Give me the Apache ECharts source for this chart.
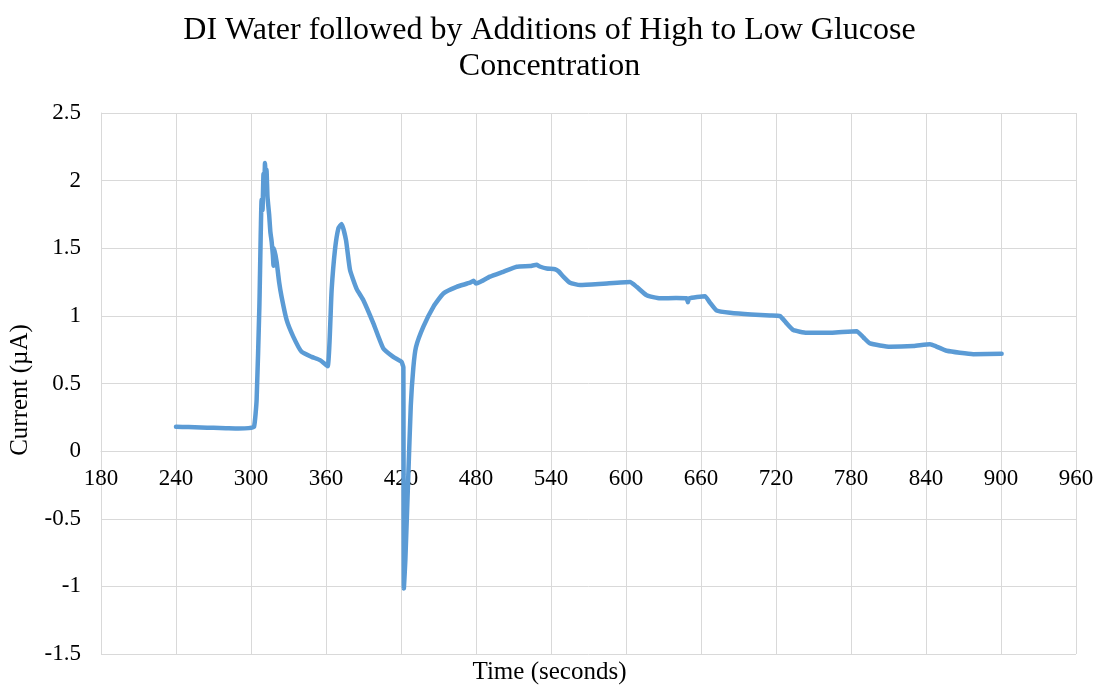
<!DOCTYPE html>
<html>
<head>
<meta charset="utf-8">
<script src="https://cdn.jsdelivr.net/npm/echarts@6/dist/echarts.min.js"></script>
<style>
  html, body { margin: 0; padding: 0; background: #fff; }
  #chart { width: 1099px; height: 688px; }
</style>
</head>
<body>
<div id="chart"></div>
<script>
// Elapsed time of the amperometric run (s)
const timeSec = [
  240, 250, 260, 270, 280, 290, 298, 302.4, 304.5, 306.7,
  308.5, 309.2, 310.0, 310.6, 311.2, 311.8, 312.4, 313.2, 314.5, 315.5,
  316.5, 317.5, 318.0, 318.5, 320.5, 322.5, 324.5, 328.5, 333.9, 340.5,
  348.5, 355.2, 361.3, 364.5, 367.2, 369.9, 372.5, 376, 379.2, 384.5,
  389.8, 397.9, 405.8, 413.8, 420.5, 421.4, 421.9, 422.3, 423.5, 425.9,
  427.8, 429.9, 432, 437.9, 445.9, 453.9, 464.5, 475.2, 478, 480,
  483.2, 491.2, 501.8, 512.6, 523.2, 528.5, 531, 536.6, 543.2, 546,
  549.9, 555.2, 563.2, 581.8, 603.2, 608.5, 616.5, 627.2, 640, 648.5,
  649.5, 650.5, 663.2, 667, 672.5, 683.2, 700, 715.2, 723.2, 728,
  733.8, 744.5, 765, 784.5, 790, 795.2, 811.2, 830, 843.2, 848,
  856.5, 877.8, 900.5
];

// Measured current (µA)
const currentUA = [
  0.18, 0.178, 0.175, 0.172, 0.17, 0.168, 0.17, 0.18, 0.38, 1.07,
  1.86, 1.78, 2.05, 1.95, 2.13, 1.98, 2.08, 1.88, 1.75, 1.62,
  1.55, 1.45, 1.37, 1.50, 1.40, 1.25, 1.14, 0.97, 0.845, 0.734,
  0.697, 0.673, 0.628, 1.19, 1.49, 1.646, 1.68, 1.56, 1.34, 1.20,
  1.117, 0.944, 0.76, 0.697, 0.66, 0.636, 0.62, -1.015, -0.8, -0.165,
  0.33, 0.62, 0.77, 0.92, 1.067, 1.166, 1.215, 1.245, 1.26, 1.24,
  1.25, 1.29, 1.326, 1.363, 1.368, 1.378, 1.365, 1.35, 1.345, 1.33,
  1.29, 1.245, 1.228, 1.238, 1.25, 1.215, 1.153, 1.13, 1.132, 1.13,
  1.10, 1.13, 1.146, 1.10, 1.04, 1.023, 1.01, 1.003, 0.998, 0.95,
  0.895, 0.875, 0.876, 0.887, 0.84, 0.796, 0.771, 0.777, 0.79, 0.775,
  0.742, 0.717, 0.72
];

const chartTitle = 'DI Water followed by Additions of High to Low Glucose\nConcentration';
const xAxisTitle = 'Time (seconds)';
const yAxisTitle = 'Current (µA)';

const xMin = 180, xMax = 960, xStep = 60;
const yMin = -1.5, yMax = 2.5, yStep = 0.5;

const serif = '"Liberation Serif", "Times New Roman", serif';
const gridColor = '#d9d9d9';

// plot box
const gridTop = 113, gridBottom = 34, chartHeight = 688;
const plotHeight = chartHeight - gridTop - gridBottom;
// lift the time axis from the bottom edge up to the zero-current line
const xAxisLift = -plotHeight * (0 - yMin) / (yMax - yMin);

const points = timeSec.map((t, i) => [t, currentUA[i]]);

const chart = echarts.init(document.getElementById('chart'), null, { renderer: 'canvas' });

chart.setOption({
  backgroundColor: '#ffffff',
  animation: false,
  title: {
    text: chartTitle,
    left: 'center',
    top: 8,
    textStyle: {
      fontFamily: serif,
      fontSize: 32,
      fontWeight: 'normal',
      color: '#000',
      lineHeight: 36
    }
  },
  grid: { left: 101, right: 23, top: gridTop, bottom: gridBottom, containLabel: false },
  xAxis: {
    type: 'value',
    min: xMin,
    max: xMax,
    interval: xStep,
    position: 'bottom',
    offset: xAxisLift,
    axisLine: { onZero: false, lineStyle: { color: gridColor, width: 1 } },
    axisTick: { show: false },
    axisLabel: {
      fontFamily: serif,
      fontSize: 23,
      color: '#000',
      margin: 16,
      showMinLabel: true,
      showMaxLabel: true
    },
    splitLine: { show: true, lineStyle: { color: gridColor, width: 1 } }
  },
  yAxis: {
    type: 'value',
    min: yMin,
    max: yMax,
    interval: yStep,
    axisLine: { show: true, lineStyle: { color: gridColor, width: 1 } },
    axisTick: { show: false },
    axisLabel: {
      fontFamily: serif,
      fontSize: 23,
      color: '#000',
      margin: 20
    },
    splitLine: { show: true, lineStyle: { color: gridColor, width: 1 } }
  },
  graphic: [
    {
      type: 'text',
      left: 'center',
      top: 660,
      style: { text: xAxisTitle, font: '25px ' + serif, fill: '#000' }
    },
    {
      type: 'text',
      x: 8,
      y: 390,
      rotation: Math.PI / 2,
      style: {
        text: yAxisTitle,
        font: '25px ' + serif,
        fill: '#000',
        align: 'center',
        verticalAlign: 'top'
      }
    }
  ],
  series: [
    {
      type: 'line',
      data: points,
      showSymbol: false,
      smooth: 0.15,
      lineStyle: { color: '#5b9bd5', width: 4.5, join: 'round', cap: 'round' },
      itemStyle: { color: '#5b9bd5' }
    }
  ]
});
</script>
</body>
</html>
